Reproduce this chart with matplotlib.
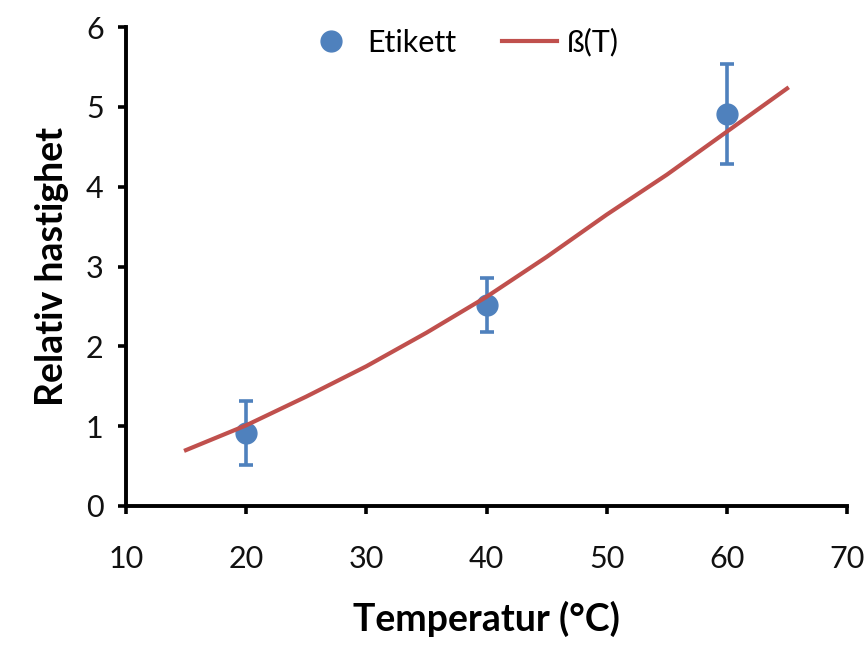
import matplotlib
matplotlib.use("Agg")
import matplotlib.pyplot as plt
from matplotlib.lines import Line2D

# measured points with error bars
temps = [20, 40, 60]
speeds = [0.91, 2.52, 4.91]
errors = [0.40, 0.34, 0.63]

# fitted curve
curve_t = [15, 20, 25, 30, 35, 40, 45, 50, 55, 60, 65]
curve_b = [0.70, 1.01, 1.37, 1.75, 2.17, 2.62, 3.12, 3.65, 4.15, 4.69, 5.23]

BLUE = "#4F81BD"
RED = "#C0504D"

plt.rcParams["font.family"] = ["Lato", "DejaVu Sans"]

fig = plt.figure(figsize=(8.68, 6.54), dpi=100)
ax = fig.add_axes([0.145, 0.2263, 0.831, 0.7324])

ax.errorbar(temps, speeds, yerr=errors, fmt="o", color=BLUE, ms=15,
            elinewidth=2.6, capsize=5, capthick=2.6, zorder=3)
ax.plot(curve_t, curve_b, color=RED, lw=3, zorder=4)

ax.set_xlim(10, 70)
ax.set_ylim(0, 6)
ax.set_xticks(range(10, 71, 10))
ax.set_yticks(range(0, 7))

for side in ("top", "right"):
    ax.spines[side].set_visible(False)
for side in ("left", "bottom"):
    ax.spines[side].set_linewidth(2.8)
ax.tick_params(direction="out", length=6, width=2.6, labelsize=22, pad=10,
               labelcolor="#111111")
ax.tick_params(axis="x", pad=22)

ax.set_xlabel("Temperatur (°C)", fontsize=27, fontweight="bold", labelpad=20)
ax.set_ylabel("Relativ hastighet", fontsize=27, fontweight="bold", labelpad=12)

handles = [
    Line2D([], [], color=BLUE, marker="o", ms=15, ls="none"),
    Line2D([], [], color=RED, lw=3),
]
ax.legend(handles, ["Etikett", "ß(T)"], loc="center", bbox_to_anchor=(0.531, 0.935),
          bbox_transform=fig.transFigure, ncol=2, frameon=False, fontsize=22,
          handlelength=1.8, columnspacing=1.5, handletextpad=0.3)

fig.savefig("out.png", dpi=100)
